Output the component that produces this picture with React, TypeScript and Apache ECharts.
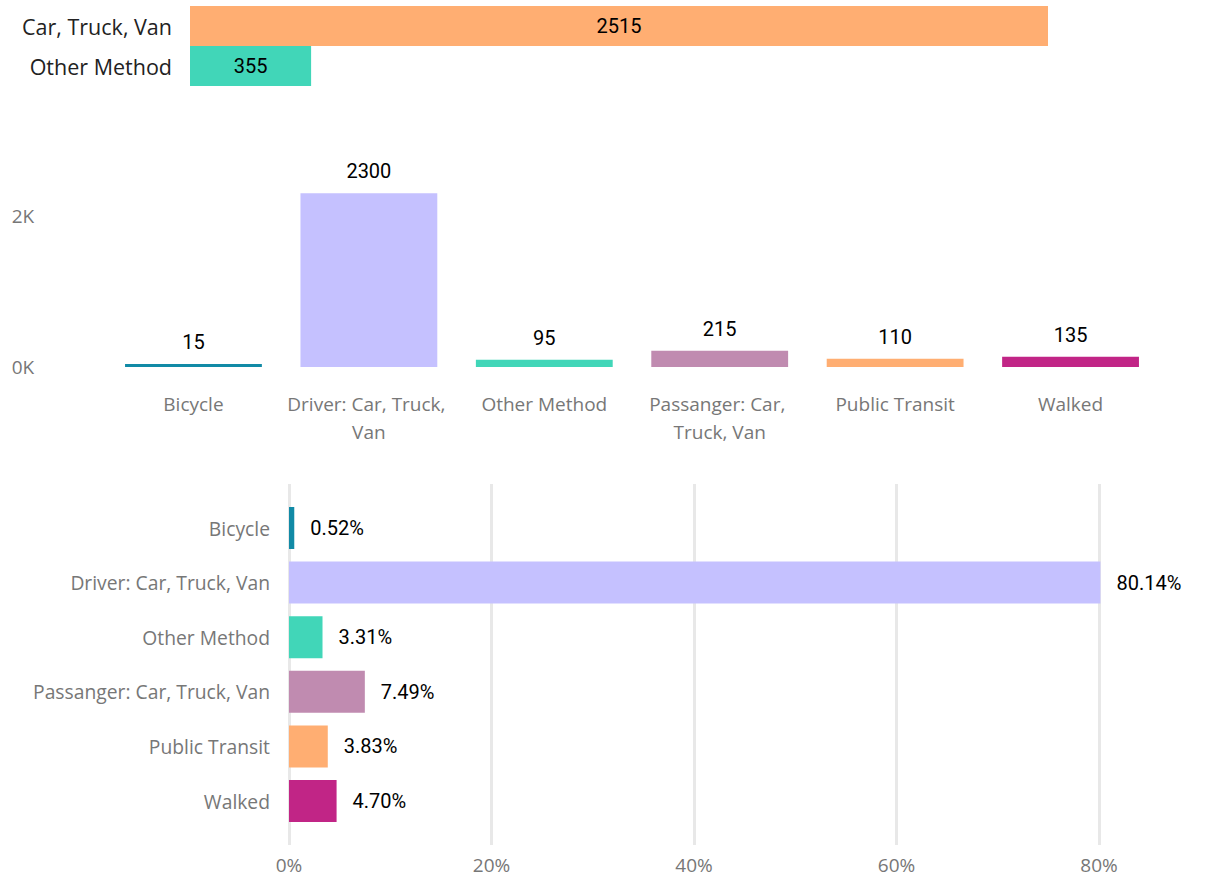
import React, { useEffect, useRef } from "react";
import * as echarts from "echarts";

const topCats = ["Car, Truck, Van", "Other Method"];
const topValues = [2515, 355];
const topColors = ["#FFAE72", "#41D6B8"];

const modes = [
  "Bicycle",
  "Driver: Car, Truck, Van",
  "Other Method",
  "Passanger: Car, Truck, Van",
  "Public Transit",
  "Walked",
];
const modeCounts = [15, 2300, 95, 215, 110, 135];
const modeShares = [0.52, 80.14, 3.31, 7.49, 3.83, 4.7];
const modeColors = ["#118AA6", "#C5C1FF", "#41D6B8", "#C08BB0", "#FFAE72", "#C12586"];

const shareTicks = [0, 20, 40, 60, 80];

const SANS = "'Segoe UI', 'Open Sans', sans-serif";
const NUM = "Roboto, 'DejaVu Sans', sans-serif";

export default function App() {
  const ref = useRef<HTMLDivElement>(null);
  useEffect(() => {
    if (!ref.current) return;
    const chart = echarts.init(ref.current, null, { renderer: "svg" });
    const shareMin = shareTicks[0];
    const shareMax = shareTicks[shareTicks.length - 1];
    const shareStep = shareTicks[1] - shareTicks[0];
    chart.setOption({
      animation: false,
      backgroundColor: "#ffffff",
      grid: [
        { left: 190, top: 6, width: 858, height: 80 },
        { left: 105.75, top: 65, width: 1052.5, height: 302 },
        { left: 289, top: 500.7, width: 810, height: 327.6 },
        { left: 289, top: 484, width: 810, height: 361 },
      ],
      xAxis: [
        { gridIndex: 0, type: "value", min: 0, max: "dataMax", show: false },
        {
          gridIndex: 1,
          type: "category",
          data: modes,
          axisLine: { show: false },
          axisTick: { show: false },
          axisLabel: {
            interval: 0,
            margin: 23,
            fontFamily: SANS,
            fontSize: 19,
            color: "#777777",
            lineHeight: 28,
            width: 168,
            overflow: "break",
          },
        },
        { gridIndex: 2, type: "value", min: shareMin, max: shareMax, interval: shareStep, show: false },
        {
          gridIndex: 3,
          type: "value",
          min: shareMin,
          max: shareMax,
          interval: shareStep,
          axisLine: { show: false },
          axisTick: { show: false },
          splitLine: { show: true, lineStyle: { color: "#E8E8E8", width: 3 } },
          axisLabel: {
            margin: 10,
            fontFamily: SANS,
            fontSize: 19,
            color: "#777777",
            formatter: (v: number) => `${v}%`,
          },
        },
      ],
      yAxis: [
        {
          gridIndex: 0,
          type: "category",
          inverse: true,
          data: topCats,
          axisLine: { show: false },
          axisTick: { show: false },
          axisLabel: { margin: 18, fontFamily: SANS, fontSize: 21.5, color: "#222222" },
        },
        {
          gridIndex: 1,
          type: "value",
          min: 0,
          max: 4000,
          interval: 2000,
          splitLine: { show: false },
          axisLine: { show: false },
          axisTick: { show: false },
          axisLabel: {
            showMaxLabel: false,
            align: "left",
            margin: 94,
            fontFamily: SANS,
            fontSize: 19,
            color: "#777777",
            formatter: (v: number) => `${v / 1000}K`,
          },
        },
        {
          gridIndex: 2,
          type: "category",
          inverse: true,
          data: modes,
          axisLine: { show: false },
          axisTick: { show: false },
          axisLabel: { margin: 19, fontFamily: SANS, fontSize: 19.3, color: "#777777" },
        },
        { gridIndex: 3, type: "value", show: false, min: 0, max: 1 },
      ],
      series: [
        {
          type: "bar",
          xAxisIndex: 0,
          yAxisIndex: 0,
          barCategoryGap: "0%",
          data: topValues.map((v, i) => ({ value: v, itemStyle: { color: topColors[i] } })),
          label: {
            show: true,
            position: "inside",
            fontFamily: NUM,
            fontSize: 20,
            color: "#000000",
          },
        },
        {
          type: "bar",
          xAxisIndex: 1,
          yAxisIndex: 1,
          barCategoryGap: "22%",
          barMinHeight: 3,
          data: modeCounts.map((v, i) => ({ value: v, itemStyle: { color: modeColors[i] } })),
          label: {
            show: true,
            position: "top",
            distance: 12,
            fontFamily: NUM,
            fontSize: 20,
            color: "#000000",
          },
        },
        {
          type: "bar",
          xAxisIndex: 2,
          yAxisIndex: 2,
          barCategoryGap: "23%",
          clip: false,
          data: modeShares.map((v, i) => ({ value: v, itemStyle: { color: modeColors[i] } })),
          label: {
            show: true,
            position: "right",
            distance: 16,
            fontFamily: NUM,
            fontSize: 20,
            color: "#000000",
            formatter: (p: any) => `${Number(p.value).toFixed(2)}%`,
          },
        },
      ],
    });
    return () => chart.dispose();
  }, []);
  return (
    <div
      ref={ref}
      style={{ position: "absolute", left: 0, top: 0, width: 1208, height: 877 }}
    />
  );
}
